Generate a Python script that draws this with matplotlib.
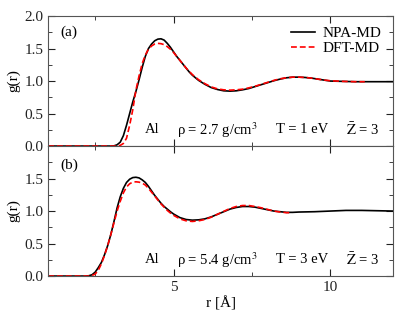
import numpy as np
import matplotlib
matplotlib.use('Agg')
import matplotlib.pyplot as plt
from matplotlib.ticker import MultipleLocator

plt.rcParams['font.family'] = ['Liberation Serif', 'DejaVu Serif']
plt.rcParams['mathtext.fontset'] = 'stix'

# panel (a): Al, 2.7 g/cm3, T = 1 eV
r_npa_a = [1.0, 3.0, 3.1, 3.2, 3.3, 3.4, 3.5, 3.6, 3.7, 3.8, 3.9, 4.0, 4.1, 4.2, 4.3, 4.4,
           4.5, 4.6, 4.7, 4.8, 4.9, 5.0, 5.1, 5.2, 5.3, 5.4, 5.5, 5.6, 5.8, 6.0, 6.2, 6.4,
           6.6, 6.8, 7.0, 7.2, 7.4, 7.6, 7.8, 8.0, 8.2, 8.4, 8.6, 8.8, 9.0, 9.2, 9.4, 9.6,
           9.8, 10.0, 10.4, 10.8, 11.2, 11.6, 12.0]
g_npa_a = [0.0, 0.0, 0.003, 0.02, 0.06, 0.16, 0.32, 0.50, 0.68, 0.84, 1.02, 1.21, 1.38, 1.50, 1.57, 1.62,
           1.645, 1.65, 1.63, 1.58, 1.52, 1.45, 1.38, 1.32, 1.26, 1.20, 1.14, 1.09, 1.01, 0.95, 0.90, 0.87,
           0.85, 0.845, 0.85, 0.865, 0.885, 0.915, 0.945, 0.975, 1.005, 1.03, 1.05, 1.06, 1.06, 1.055, 1.045, 1.03,
           1.015, 1.0, 0.995, 0.99, 0.99, 0.99, 0.99]

r_dft_a = [1.0, 3.2, 3.3, 3.4, 3.5, 3.6, 3.7, 3.8, 3.9, 4.0, 4.1, 4.2, 4.3, 4.4, 4.5, 4.6,
           4.7, 4.8, 4.9, 5.0, 5.1, 5.2, 5.4, 5.6, 5.8, 6.0, 6.2, 6.4, 6.6, 6.8, 7.0, 7.2,
           7.4, 7.6, 7.8, 8.0, 8.2, 8.4, 8.6, 8.8, 9.0, 9.2, 9.4, 9.6, 9.8, 10.0, 10.4, 10.8, 11.1]
g_dft_a = [0.0, 0.0, 0.01, 0.04, 0.12, 0.32, 0.56, 0.86, 1.08, 1.27, 1.40, 1.49, 1.54, 1.57, 1.58, 1.575,
           1.56, 1.53, 1.49, 1.44, 1.38, 1.32, 1.20, 1.10, 1.02, 0.96, 0.91, 0.88, 0.865, 0.86, 0.865, 0.875,
           0.895, 0.92, 0.95, 0.98, 1.01, 1.035, 1.05, 1.06, 1.06, 1.055, 1.045, 1.03, 1.015, 1.005, 0.995, 0.99, 0.99]

# panel (b): Al, 5.4 g/cm3, T = 3 eV
r_npa_b = [1.0, 2.2, 2.3, 2.4, 2.5, 2.6, 2.7, 2.8, 2.9, 3.0, 3.1, 3.2, 3.3, 3.4, 3.5, 3.6,
           3.7, 3.8, 3.9, 4.0, 4.1, 4.2, 4.3, 4.4, 4.5, 4.6, 4.7, 4.8, 4.9, 5.0, 5.2, 5.4,
           5.6, 5.8, 6.0, 6.2, 6.4, 6.6, 6.8, 7.0, 7.2, 7.4, 7.6, 7.8, 8.0, 8.2, 8.4, 8.6,
           8.8, 9.0, 9.5, 10.0, 10.5, 11.0, 11.5, 12.0]
g_npa_b = [0.0, 0.0, 0.005, 0.02, 0.06, 0.13, 0.21, 0.33, 0.47, 0.64, 0.84, 1.05, 1.22, 1.35, 1.44, 1.49,
           1.515, 1.52, 1.51, 1.48, 1.44, 1.38, 1.31, 1.24, 1.18, 1.12, 1.07, 1.03, 0.99, 0.955, 0.90, 0.87,
           0.86, 0.865, 0.88, 0.91, 0.95, 0.99, 1.03, 1.055, 1.07, 1.07, 1.06, 1.04, 1.02, 1.0, 0.99, 0.98,
           0.98, 0.985, 0.99, 1.0, 1.01, 1.01, 1.005, 1.0]

r_dft_b = [1.0, 2.3, 2.4, 2.5, 2.6, 2.7, 2.8, 2.9, 3.0, 3.1, 3.2, 3.3, 3.4, 3.5, 3.6, 3.7,
           3.8, 3.9, 4.0, 4.1, 4.2, 4.3, 4.4, 4.5, 4.6, 4.7, 4.8, 4.9, 5.0, 5.2, 5.4, 5.6,
           5.8, 6.0, 6.2, 6.4, 6.6, 6.8, 7.0, 7.2, 7.4, 7.6, 7.8, 8.0, 8.2, 8.4, 8.6, 8.75]
g_dft_b = [0.0, 0.0, 0.01, 0.03, 0.09, 0.19, 0.32, 0.47, 0.64, 0.82, 1.0, 1.15, 1.28, 1.37, 1.42, 1.445,
           1.45, 1.445, 1.43, 1.40, 1.35, 1.29, 1.23, 1.17, 1.11, 1.06, 1.01, 0.97, 0.935, 0.88, 0.85, 0.84,
           0.85, 0.87, 0.905, 0.95, 0.995, 1.04, 1.07, 1.085, 1.085, 1.07, 1.05, 1.025, 1.0, 0.985, 0.975, 0.975]

labels = ['NPA-MD', 'DFT-MD']
panel_tags = ['(a)', '(b)']
rho_text = ['ρ = 2.7 g/cm$^3$', 'ρ = 5.4 g/cm$^3$']
temp_text = ['T = 1 eV', 'T = 3 eV']

fig = plt.figure(figsize=(4.15, 3.21), dpi=100)
ax1 = fig.add_axes([0.116, 0.545, 0.831, 0.405])
ax2 = fig.add_axes([0.116, 0.140, 0.831, 0.405], sharex=ax1)

data = [(r_npa_a, g_npa_a, r_dft_a, g_dft_a), (r_npa_b, g_npa_b, r_dft_b, g_dft_b)]
for i, ax in enumerate([ax1, ax2]):
    rn, gn, rd, gd = data[i]
    ax.plot(rn, gn, color='black', lw=1.2, label=labels[0])
    ax.plot(rd, gd, color='red', lw=1.2, ls=(0, (3.5, 1.8)), label=labels[1])
    ax.set_xlim(1, 12)
    ax.set_ylim(0, 2.0)
    ax.xaxis.set_major_locator(MultipleLocator(5))
    ax.xaxis.set_minor_locator(MultipleLocator(2.5))
    ax.yaxis.set_minor_locator(MultipleLocator(0.25))
    ax.tick_params(which='both', direction='in', top=True, right=True, labelsize=11, colors='#222222')
    ax.tick_params(which='major', length=5)
    ax.tick_params(which='minor', length=3)
    for s in ax.spines.values():
        s.set_color('#555555')
    ax.set_ylabel('g(r)', fontsize=11, labelpad=3)
    ax.text(1.38, 1.75 if i == 0 else 1.70, panel_tags[i], fontsize=11, va='center')
    yt = 0.25
    ax.text(4.1, yt, 'Al', fontsize=10.5, va='center')
    ax.text(5.1, yt, rho_text[i], fontsize=10.5, va='center')
    ax.text(8.28, yt, temp_text[i], fontsize=10.5, va='center')
    ax.text(10.49, yt, r'$\bar{\mathrm{Z}}$ = 3', fontsize=10.5, va='center')

ax1.set_yticks([0, 0.5, 1.0, 1.5, 2.0])
ax1.set_yticklabels(['0.0', '0.5', '1.0', '1.5', '2.0'])
ax2.set_yticks([0, 0.5, 1.0, 1.5])
ax2.set_yticklabels(['0.0', '0.5', '1.0', '1.5'])
plt.setp(ax1.get_xticklabels(), visible=False)
ax2.set_xlabel('r [Å]', fontsize=11, labelpad=2)

ax1.legend(loc='upper right', frameon=False, fontsize=11, handlelength=1.6,
           handletextpad=0.5, labelspacing=0.05, borderaxespad=0.0,
           bbox_to_anchor=(0.985, 0.965))

fig.savefig('out.png', dpi=100)
